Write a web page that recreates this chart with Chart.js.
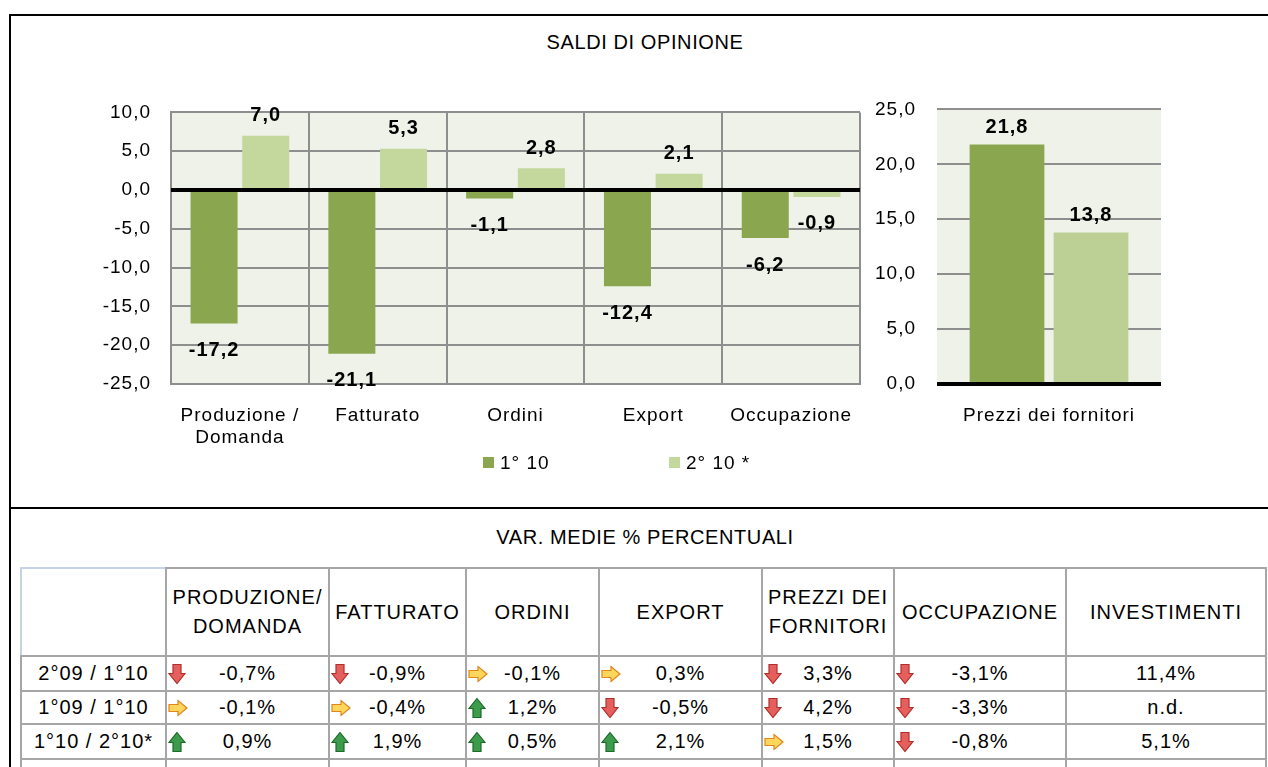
<!DOCTYPE html>
<html lang="it">
<head>
  <meta charset="UTF-8">
  <title>Saldi di opinione</title>
  <script src="https://cdn.jsdelivr.net/npm/chart.js"></script>
  <style>
    body {
      margin: 0;
      width: 1268px;
      height: 767px;
      overflow: hidden;
      background: #fff;
      font-family: 'Liberation Sans', Arial, sans-serif;
      color: #000;
      position: relative;
    }

    .frame {
      position: absolute;
      left: 9px;
      top: 14px;
      width: 1300px;
      height: 800px;
      border-left: 2px solid #000;
      border-top: 2px solid #000;
    }

    .divider {
      position: absolute;
      left: 9px;
      top: 507px;
      width: 1300px;
      height: 2px;
      background: #000;
    }

    .title {
      position: absolute;
      left: 0;
      width: 1290px;
      text-align: center;
      font-size: 20px;
      letter-spacing: 0.6px;
    }

    canvas {
      position: absolute;
    }

    .legend {
      position: absolute;
      top: 451px;
      font-size: 19px;
      letter-spacing: 1px;
      line-height: 24px;
      white-space: nowrap;
    }

    .legend i {
      display: inline-block;
      width: 11px;
      height: 11px;
      margin-right: 6px;
      vertical-align: 1px;
    }

    table {
      position: absolute;
      left: 20px;
      top: 567px;
      border-collapse: collapse;
      table-layout: fixed;
      font-size: 20px;
      letter-spacing: 1px;
    }

    td {
      border: 2px solid #a6a6a6;
      text-align: center;
      vertical-align: middle;
      position: relative;
      padding: 0;
      white-space: nowrap;
    }

    tr.head td {
      height: 86px;
      line-height: 29px;
    }

    td.corner {
      border-top-color: #c6d3e4;
      border-left-color: #c6d3e4;
    }

    td .ic {
      position: absolute;
      left: 1px;
      top: 50%;
      transform: translateY(-50%);
      line-height: 0;
    }
  </style>
</head>
<body>

  <div class="frame"></div>
  <div class="divider"></div>

  <div class="title" style="top: 31px;">SALDI DI OPINIONE</div>

  <canvas id="saldiChart" width="820" height="373" style="left: 60px; top: 81px;"></canvas>
  <canvas id="prezziChart" width="316" height="377" style="left: 865px; top: 77px;"></canvas>

  <div id="legend"></div>

  <div class="title" style="top: 526px;">VAR. MEDIE % PERCENTUALI</div>

  <table id="varTable"></table>

  <script>
    const categories = [['Produzione /', 'Domanda'], 'Fatturato', 'Ordini', 'Export', 'Occupazione'];
    const seriesNames = ['1° 10', '2° 10 *'];
    const saldi1 = [-17.2, -21.1, -1.1, -12.4, -6.2];
    const saldi2 = [7.0, 5.3, 2.8, 2.1, -0.9];

    const prezziCategory = ['Prezzi dei fornitori'];
    const prezzi1 = [21.8];
    const prezzi2 = [13.8];

    const tableHeaders = [
      ['PRODUZIONE/', 'DOMANDA'], ['FATTURATO'], ['ORDINI'], ['EXPORT'],
      ['PREZZI DEI', 'FORNITORI'], ['OCCUPAZIONE'], ['INVESTIMENTI']
    ];
    const periods = ['2°09 / 1°10', '1°09 / 1°10', '1°10 / 2°10*'];
    const tableValues = [
      ['-0,7%', '-0,9%', '-0,1%', '0,3%', '3,3%', '-3,1%', '11,4%'],
      ['-0,1%', '-0,4%', '1,2%', '-0,5%', '4,2%', '-3,3%', 'n.d.'],
      ['0,9%', '1,9%', '0,5%', '2,1%', '1,5%', '-0,8%', '5,1%']
    ];
    const tableTrends = [
      ['down', 'down', 'right', 'right', 'down', 'down', null],
      ['right', 'right', 'up', 'down', 'down', 'down', null],
      ['up', 'up', 'up', 'up', 'right', 'down', null]
    ];

    const darkGreen = '#8aa64f';
    const lightGreen = '#c4d79c';
    const lightGreen2 = '#bcd096';
    const plotBg = '#eff2e9';
    const gridGray = '#8e8e8e';

    const fmt = v => v.toFixed(1).replace('.', ',');

    Chart.defaults.font.family = "'Liberation Sans', Arial, sans-serif";
    Chart.defaults.font.size = 19;
    Chart.defaults.color = '#000';

    // the source text is set a little wide
    const spacing = {
      id: 'spacing',
      beforeUpdate(chart) { chart.ctx.letterSpacing = '1px'; },
      beforeDraw(chart) { chart.ctx.letterSpacing = '1px'; }
    };

    // plot background, zero line on top of bars, value labels
    const plotExtras = {
      id: 'plotExtras',
      beforeDraw(chart) {
        const a = chart.chartArea;
        chart.ctx.save();
        chart.ctx.fillStyle = plotBg;
        chart.ctx.fillRect(a.left, a.top, a.right - a.left, a.bottom - a.top);
        chart.ctx.restore();
      },
      afterDatasetsDraw(chart, args, opts) {
        const ctx = chart.ctx;
        const a = chart.chartArea;
        const y0 = chart.scales.y.getPixelForValue(0);
        ctx.save();
        ctx.strokeStyle = '#000';
        ctx.lineWidth = 4;
        ctx.beginPath();
        ctx.moveTo(a.left, y0);
        ctx.lineTo(a.right, y0);
        ctx.stroke();

        ctx.font = "bold 20px 'Liberation Sans', Arial, sans-serif";
        ctx.fillStyle = '#000';
        ctx.textAlign = 'center';
        ctx.textBaseline = 'middle';
        chart.data.datasets.forEach((ds, i) => {
          chart.getDatasetMeta(i).data.forEach((bar, j) => {
            const v = ds.data[j];
            const y = v >= 0 ? bar.y - opts.up : bar.y + opts.down;
            ctx.fillText(fmt(v), bar.x, y);
          });
        });
        ctx.restore();
      }
    };

    new Chart(document.getElementById('saldiChart'), {
      type: 'bar',
      data: {
        labels: categories,
        datasets: [
          { label: seriesNames[0], data: saldi1, backgroundColor: darkGreen },
          { label: seriesNames[1], data: saldi2, backgroundColor: lightGreen }
        ]
      },
      options: {
        responsive: false,
        animation: false,
        devicePixelRatio: 1,
        categoryPercentage: 0.75,
        barPercentage: 0.91,
        layout: { padding: { top: 0, right: 20, left: 0, bottom: 0 } },
        plugins: {
          legend: { display: false },
          tooltip: { enabled: false },
          plotExtras: { up: 20, down: 27 }
        },
        scales: {
          x: {
            grid: { color: gridGray, lineWidth: 2, drawTicks: false },
            border: { color: gridGray, width: 2 },
            ticks: { padding: 20 },
            afterFit: s => { s.height = 70; }
          },
          y: {
            min: -25,
            max: 10,
            grid: { color: gridGray, lineWidth: 2, drawTicks: false },
            border: { color: gridGray, width: 2 },
            ticks: { stepSize: 5, padding: 20, callback: v => fmt(v) },
            afterFit: s => { s.width = 111; }
          }
        }
      },
      plugins: [spacing, plotExtras]
    });

    new Chart(document.getElementById('prezziChart'), {
      type: 'bar',
      data: {
        labels: prezziCategory,
        datasets: [
          { label: seriesNames[0], data: prezzi1, backgroundColor: darkGreen },
          { label: seriesNames[1], data: prezzi2, backgroundColor: lightGreen2 }
        ]
      },
      options: {
        responsive: false,
        animation: false,
        devicePixelRatio: 1,
        categoryPercentage: 0.75,
        barPercentage: 0.89,
        layout: { padding: { top: 0, right: 20, left: 0, bottom: 0 } },
        plugins: {
          legend: { display: false },
          tooltip: { enabled: false },
          plotExtras: { up: 17, down: 27 }
        },
        scales: {
          x: {
            grid: { display: false, drawTicks: false },
            border: { display: false },
            ticks: { padding: 20 },
            afterFit: s => { s.height = 70; }
          },
          y: {
            min: 0,
            max: 25,
            grid: { color: gridGray, lineWidth: 2, drawTicks: false },
            border: { display: false },
            ticks: { stepSize: 5, padding: 21, callback: v => fmt(v) },
            afterFit: s => { s.width = 72; }
          }
        }
      },
      plugins: [spacing, plotExtras]
    });

    // legend
    const legendX = [483, 669];
    const legendColors = [darkGreen, lightGreen];
    document.getElementById('legend').innerHTML = seriesNames.map((name, i) =>
      `<div class="legend" style="left:${legendX[i]}px"><i style="background:${legendColors[i]}"></i>${name}</div>`
    ).join('');

    // table
    const arrowSvg = {
      down: '<svg width="18" height="21" viewBox="0 0 18 21"><polygon points="5,1 13,1 13,10 17,10 9,20 1,10 5,10" fill="#e5605c" stroke="#b02f2c" stroke-width="1.2"/></svg>',
      right: '<svg width="20" height="17" viewBox="0 0 20 17"><polygon points="1,5 10,5 10,1 19,8.5 10,16 10,12 1,12" fill="#ffd65c" stroke="#e0861a" stroke-width="1.2"/></svg>',
      up: '<svg width="18" height="21" viewBox="0 0 18 21"><polygon points="9,1 17,11 13,11 13,20 5,20 5,11 1,11" fill="#3d9c4c" stroke="#1c6b2b" stroke-width="1.2"/></svg>'
    };
    const colWidths = [145, 163, 137, 133, 163, 132, 172, 200];
    const rowHeights = [35, 33, 35];

    let html = '<colgroup>' + colWidths.map(w => `<col style="width:${w}px">`).join('') + '</colgroup>';
    html += '<tr class="head"><td class="corner"></td>' +
      tableHeaders.map(h => `<td>${h.join('<br>')}</td>`).join('') + '</tr>';
    periods.forEach((p, r) => {
      html += `<tr style="height:${rowHeights[r]}px"><td>${p}</td>` +
        tableValues[r].map((v, c) => {
          const t = tableTrends[r][c];
          return `<td>${t ? '<span class="ic">' + arrowSvg[t] + '</span>' : ''}${v}</td>`;
        }).join('') + '</tr>';
    });
    html += '<tr style="height:33px">' + colWidths.map(() => '<td></td>').join('') + '</tr>';
    document.getElementById('varTable').innerHTML = html;
  </script>
</body>
</html>
